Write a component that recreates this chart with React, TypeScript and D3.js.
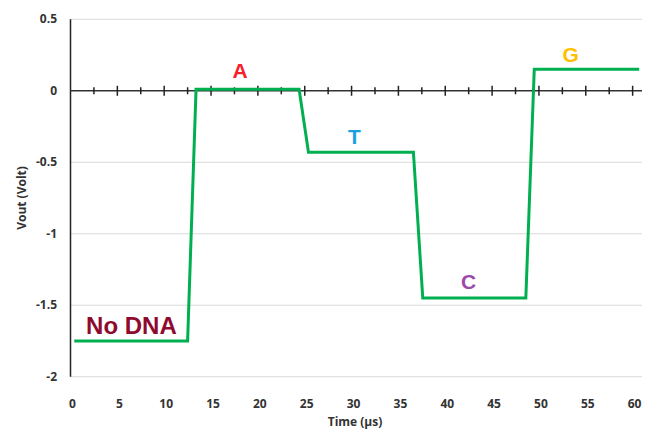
import { useEffect, useRef } from 'react'
import * as d3 from 'd3'

// step response: time (µs), Vout (V)
const times = [0.4, 12.5, 13.4, 24.4, 25.4, 36.6, 37.6, 48.6, 49.5, 60.7]
const volts = [-1.75, -1.75, 0.01, 0.01, -0.43, -0.43, -1.45, -1.45, 0.15, 0.15]

const xTicks = [0, 5, 10, 15, 20, 25, 30, 35, 40, 45, 50, 55, 60]
const yTicks = [0.5, 0, -0.5, -1, -1.5, -2]

// base labels, anchored in data units (text baseline)
const baseNames = ['No DNA', 'A', 'T', 'C', 'G']
const baseX = [6.5, 18.1, 30.3, 42.5, 53.4]
const baseY = [-1.7, 0.09, -0.375, -1.385, 0.2]
const baseColors = ['#8e0a2e', '#f5222d', '#1ba1e2', '#9e4aa8', '#ffc000']

const W = 656
const H = 434

export default function App() {
  const ref = useRef<SVGSVGElement | null>(null)

  useEffect(() => {
    const svg = d3.select(ref.current)
    svg.selectAll('*').remove()

    const x = d3.scaleLinear().domain([0, 61]).range([70.5, 642])
    const y = d3.scaleLinear().domain([-2, 0.5]).range([376.7, 19.3])

    // horizontal gridlines
    svg
      .append('g')
      .selectAll('line')
      .data(yTicks.filter((d) => d !== 0))
      .join('line')
      .attr('x1', x(0))
      .attr('x2', x(61))
      .attr('y1', (d) => y(d))
      .attr('y2', (d) => y(d))
      .attr('stroke', '#d9d9d9')
      .attr('stroke-width', 1)

    // left axis line
    svg
      .append('line')
      .attr('x1', x(0))
      .attr('x2', x(0))
      .attr('y1', y(0.5))
      .attr('y2', y(-2))
      .attr('stroke', '#222')
      .attr('stroke-width', 1.5)

    // y tick labels
    svg
      .append('g')
      .selectAll('text')
      .data(yTicks)
      .join('text')
      .attr('x', 57)
      .attr('y', (d) => y(d) + 4)
      .attr('text-anchor', 'end')
      .attr('font-family', 'Open Sans, sans-serif')
      .attr('font-weight', 'bold')
      .attr('font-size', 12)
      .attr('fill', '#333')
      .text((d) => String(d))

    // x tick labels at bottom
    svg
      .append('g')
      .selectAll('text')
      .data(xTicks)
      .join('text')
      .attr('x', (d) => x(d) + 2)
      .attr('y', 408)
      .attr('text-anchor', 'middle')
      .attr('font-family', 'Open Sans, sans-serif')
      .attr('font-weight', 'bold')
      .attr('font-size', 12)
      .attr('fill', '#333')
      .text((d) => String(d))

    // zero axis with crossing ticks
    const zeroY = y(0)
    svg
      .append('line')
      .attr('x1', x(0))
      .attr('x2', x(61))
      .attr('y1', zeroY)
      .attr('y2', zeroY)
      .attr('stroke', '#333')
      .attr('stroke-width', 1.5)

    const minor = d3.range(2.5, 61, 2.5)
    svg
      .append('g')
      .selectAll('line')
      .data(minor)
      .join('line')
      .attr('x1', (d) => x(d))
      .attr('x2', (d) => x(d))
      .attr('y1', (d) => zeroY - (d % 5 === 0 ? 5 : 3.5))
      .attr('y2', (d) => zeroY + (d % 5 === 0 ? 5 : 3.5))
      .attr('stroke', '#222')
      .attr('stroke-width', 1.5)

    // data line
    const pts = times.map((t, i) => [t, volts[i]] as [number, number])
    const line = d3
      .line<[number, number]>()
      .x((d) => x(d[0]))
      .y((d) => y(d[1]))
    svg
      .append('path')
      .attr('d', line(pts))
      .attr('fill', 'none')
      .attr('stroke', '#00b050')
      .attr('stroke-width', 3)
      .attr('stroke-linejoin', 'miter')

    // base annotations
    svg
      .append('g')
      .selectAll('text')
      .data(baseNames)
      .join('text')
      .attr('x', (_, i) => x(baseX[i]))
      .attr('y', (_, i) => y(baseY[i]))
      .attr('text-anchor', 'middle')
      .attr('font-family', 'Liberation Sans, Arial, sans-serif')
      .attr('font-weight', 'bold')
      .attr('font-size', (_, i) => (i === 0 ? 24 : 21))
      .attr('fill', (_, i) => baseColors[i])
      .text((d) => d)

    // axis titles
    svg
      .append('text')
      .attr('transform', `translate(26, ${(y(0.5) + y(-2)) / 2}) rotate(-90)`)
      .attr('text-anchor', 'middle')
      .attr('font-family', 'Open Sans, sans-serif')
      .attr('font-weight', 'bold')
      .attr('font-size', 12)
      .attr('fill', '#333')
      .text('Vout (Volt)')

    svg
      .append('text')
      .attr('x', 355)
      .attr('y', 426)
      .attr('text-anchor', 'middle')
      .attr('font-family', 'Open Sans, sans-serif')
      .attr('font-weight', 'bold')
      .attr('font-size', 12)
      .attr('fill', '#333')
      .text('Time (µs)')
  }, [])

  return (
    <svg
      ref={ref}
      width={W}
      height={H}
      style={{ position: 'absolute', left: 0, top: 0, background: '#fff' }}
    />
  )
}
